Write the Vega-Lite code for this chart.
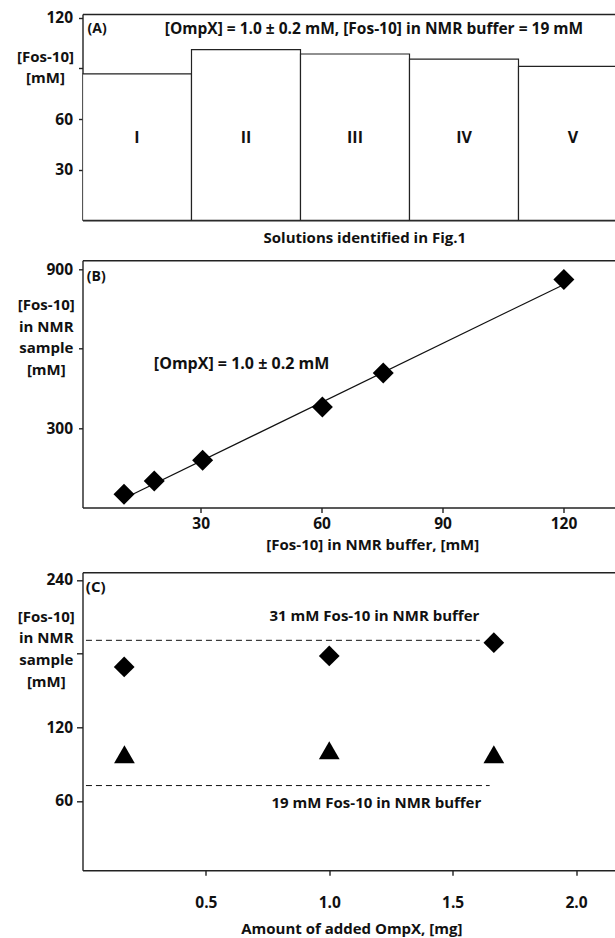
{
  "$schema": "https://vega.github.io/schema/vega-lite/v6.json",
  "padding": {"left": 16.5, "top": 10, "right": 0, "bottom": 0},
  "bounds": "flush",
  "spacing": 39.3,
  "config": {
    "font": "Open Sans",
    "view": {"stroke": null},
    "axis": {
      "domainColor": "#222", "domainWidth": 1.4, "tickColor": "#222", "tickWidth": 1.4,
      "labelColor": "#111", "titleColor": "#111", "labelFont": "Open Sans", "titleFont": "Open Sans",
      "labelFontSize": 15.5, "titleFontSize": 15, "labelFontWeight": "bold", "titleFontWeight": "bold", "grid": false
    },
    "text": {"font": "Open Sans", "fontSize": 15.5, "fontWeight": "bold", "color": "#111"}
  },
  "vconcat": [
    {
      "width": 533,
      "height": 206.3,
      "resolve": {"scale": {"x": "independent"}, "axis": {"x": "independent", "y": "independent"}},
      "layer": [
        {
          "data": {"values": [
            {"solution": "I", "fos": 86.8},
            {"solution": "II", "fos": 101.2},
            {"solution": "III", "fos": 98.6},
            {"solution": "IV", "fos": 95.5},
            {"solution": "V", "fos": 91.2}
          ]},
          "mark": {"type": "bar", "fill": "white", "stroke": "#222", "strokeWidth": 1.2, "clip": true},
          "encoding": {
            "x": {"field": "solution", "type": "nominal", "sort": null, "scale": {"range": [0, 545], "paddingInner": 0, "paddingOuter": 0}, "axis": null},
            "y": {"field": "fos", "type": "quantitative", "scale": {"domain": [0, 122.3], "nice": false},
              "axis": {"orient": "left", "values": [30, 60, 90, 120], "labelExpr": "datum.value == 90 ? '' : datum.label", "tickSize": 4, "labelPadding": 6,
                "title": ["[Fos-10]", "[mM]"], "titleAngle": 0, "titleAlign": "center", "titleBaseline": "alphabetic",
                "titleX": -37.5, "titleY": 47.4, "titleLineHeight": 21.6}}
          }
        },
        {
          "data": {"values": [
            {"solution": "I"}, {"solution": "II"}, {"solution": "III"}, {"solution": "IV"}, {"solution": "V"}
          ]},
          "mark": {"type": "text", "baseline": "middle", "align": "center", "fontSize": 16},
          "encoding": {
            "x": {"field": "solution", "type": "nominal", "sort": null, "scale": {"range": [0, 545], "paddingInner": 0, "paddingOuter": 0}, "axis": null},
            "y": {"datum": 49, "axis": null},
            "text": {"field": "solution"}
          }
        },
        {
          "data": {"values": [{"label": "(A)", "tx": 0.046, "ty": 113.5}]},
          "mark": {"type": "text", "align": "left", "baseline": "middle", "fontSize": 14},
          "encoding": {
            "x": {"field": "tx", "type": "quantitative", "scale": {"domain": [0, 4.89], "nice": false},
              "axis": {"orient": "bottom", "ticks": false, "labels": false, "title": "Solutions identified in Fig.1", "titleX": 281.8, "titleY": 21.7, "titleBaseline": "alphabetic", "titleAlign": "center"}},
            "y": {"field": "ty", "type": "quantitative", "axis": null},
            "text": {"field": "label"}
          }
        },
        {
          "data": {"values": [{"label": "[OmpX] = 1.0 ± 0.2 mM, [Fos-10] in NMR buffer = 19 mM", "tx": 0.755, "ty": 113.5}]},
          "mark": {"type": "text", "align": "left", "baseline": "middle"},
          "encoding": {
            "x": {"field": "tx", "type": "quantitative", "scale": {"domain": [0, 4.89], "nice": false},
              "axis": {"orient": "top", "ticks": false, "labels": false, "title": null}},
            "y": {"field": "ty", "type": "quantitative", "axis": null},
            "text": {"field": "label"}
          }
        }
      ]
    },
    {
      "bounds": "flush",
      "spacing": 64,
      "vconcat": [
        {
          "width": 533,
          "height": 247.2,
          "resolve": {"axis": {"x": "independent", "y": "independent"}},
          "layer": [
            {
              "data": {"values": [{"buf": 11, "sample": 34}, {"buf": 120, "sample": 841}]},
              "mark": {"type": "line", "color": "#111", "strokeWidth": 1.2},
              "encoding": {
                "x": {"field": "buf", "type": "quantitative", "scale": {"domain": [0.7, 132.9], "nice": false},
                  "axis": {"orient": "bottom", "values": [30, 60, 90, 120], "tickSize": 5, "labelPadding": 3.5, "title": "[Fos-10] in NMR buffer, [mM]",
                    "titleX": 289.8, "titleY": 41.8, "titleBaseline": "alphabetic", "titleAlign": "center"}},
                "y": {"field": "sample", "type": "quantitative", "scale": {"domain": [0, 933], "nice": false},
                  "axis": {"orient": "left", "values": [300, 600, 900], "labelExpr": "datum.value == 600 ? '' : datum.label", "tickSize": 4, "labelPadding": 6,
                    "title": ["[Fos-10]", "in NMR", "sample", "[mM]"], "titleAngle": 0, "titleAlign": "center", "titleBaseline": "alphabetic",
                    "titleX": -36.7, "titleY": 49.2, "titleLineHeight": 21.7}}
              }
            },
            {
              "data": {"values": [
                {"buf": 11.0, "sample": 49.8},
                {"buf": 18.5, "sample": 100},
                {"buf": 30.5, "sample": 178},
                {"buf": 60.2, "sample": 379},
                {"buf": 75.3, "sample": 508},
                {"buf": 120.1, "sample": 861}
              ]},
              "mark": {"type": "point", "shape": "diamond", "filled": true, "size": 441, "color": "#000", "opacity": 1},
              "encoding": {
                "x": {"field": "buf", "type": "quantitative", "axis": null},
                "y": {"field": "sample", "type": "quantitative", "axis": null}
              }
            },
            {
              "data": {"values": [
                {"label": "(B)", "tx": 1.77, "ty": 870},
                {"label": "[OmpX] = 1.0 ± 0.2 mM", "tx": 18.4, "ty": 542.7}
              ]},
              "mark": {"type": "text", "align": "left", "baseline": "middle"},
              "encoding": {
                "x": {"field": "tx", "type": "quantitative", "axis": {"orient": "top", "ticks": false, "labels": false, "title": null}},
                "y": {"field": "ty", "type": "quantitative", "axis": null},
                "text": {"field": "label"},
                "size": {"field": "label", "type": "nominal", "scale": {"domain": ["(B)", "[OmpX] = 1.0 ± 0.2 mM"], "range": [14, 16]}, "legend": null}
              }
            }
          ]
        },
        {
          "width": 533,
          "height": 298,
          "resolve": {"axis": {"x": "independent", "y": "independent"}},
          "layer": [
            {
              "data": {"values": [
                {"omp": 0.014, "fos": 190.8, "ref": "31 mM"},
                {"omp": 1.61, "fos": 190.8, "ref": "31 mM"},
                {"omp": 0.014, "fos": 72.5, "ref": "19 mM"},
                {"omp": 1.65, "fos": 72.5, "ref": "19 mM"}
              ]},
              "mark": {"type": "line", "color": "#111", "strokeWidth": 1, "strokeDash": [6, 4]},
              "encoding": {
                "x": {"field": "omp", "type": "quantitative", "scale": {"domain": [0, 2.16], "nice": false},
                  "axis": {"orient": "bottom", "values": [0.5, 1, 1.5, 2], "format": ".1f", "tickSize": 5, "labelPadding": 20, "title": "Amount of added OmpX, [mg]",
                    "titleX": 268.8, "titleY": 63.6, "titleBaseline": "alphabetic", "titleAlign": "center"}},
                "y": {"field": "fos", "type": "quantitative", "scale": {"domain": [3.5, 246.2], "nice": false},
                  "axis": {"orient": "left", "values": [60, 120, 180, 240], "labelExpr": "datum.value == 180 ? '' : datum.label", "tickSize": 6, "labelPadding": 4,
                    "title": ["[Fos-10]", "in NMR", "sample", "[mM]"], "titleAngle": 0, "titleAlign": "center", "titleBaseline": "alphabetic",
                    "titleX": -36.7, "titleY": 48.8, "titleLineHeight": 21.7}},
                "detail": {"field": "ref"}
              }
            },
            {
              "data": {"values": [
                {"omp": 0.169, "fos": 169.1, "buffer": "31 mM"},
                {"omp": 1.0, "fos": 178.1, "buffer": "31 mM"},
                {"omp": 1.667, "fos": 188.9, "buffer": "31 mM"},
                {"omp": 0.17, "fos": 98.0, "buffer": "19 mM"},
                {"omp": 1.0, "fos": 101.2, "buffer": "19 mM"},
                {"omp": 1.667, "fos": 98.0, "buffer": "19 mM"}
              ]},
              "mark": {"type": "point", "filled": true, "size": 430, "color": "#000", "opacity": 1},
              "encoding": {
                "x": {"field": "omp", "type": "quantitative", "axis": null},
                "y": {"field": "fos", "type": "quantitative", "axis": null},
                "shape": {"field": "buffer", "type": "nominal", "scale": {"domain": ["31 mM", "19 mM"], "range": ["diamond", "triangle-up"]}, "legend": null}
              }
            },
            {
              "data": {"values": [
                {"label": "(C)", "tx": 0.0134, "ty": 234.6},
                {"label": "31 mM Fos-10 in NMR buffer", "tx": 0.758, "ty": 210.9},
                {"label": "19 mM Fos-10 in NMR buffer", "tx": 0.766, "ty": 58.1}
              ]},
              "mark": {"type": "text", "align": "left", "baseline": "middle", "fontSize": 15},
              "encoding": {
                "x": {"field": "tx", "type": "quantitative", "axis": {"orient": "top", "ticks": false, "labels": false, "title": null}},
                "y": {"field": "ty", "type": "quantitative", "axis": null},
                "text": {"field": "label"}
              }
            }
          ]
        }
      ]
    }
  ]
}
